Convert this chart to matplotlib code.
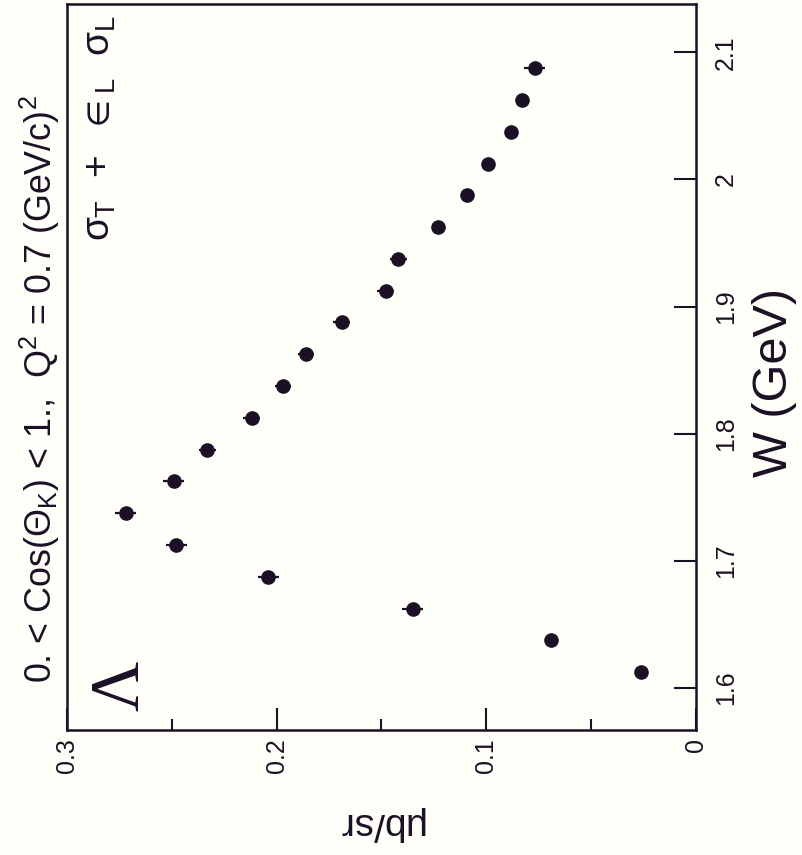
import matplotlib
matplotlib.use("Agg")
import matplotlib.pyplot as plt
from matplotlib.ticker import MultipleLocator

plt.rcParams['font.family'] = ['Liberation Sans', 'DejaVu Sans']
plt.rcParams['mathtext.fontset'] = 'custom'
plt.rcParams['mathtext.rm'] = 'Liberation Sans'
plt.rcParams['mathtext.it'] = 'Liberation Sans'
plt.rcParams['mathtext.bf'] = 'Liberation Sans:bold'
plt.rcParams['mathtext.fallback'] = 'stixsans'

# Data: W (GeV) and cross section (mub/sr)
W = [1.6125, 1.6375, 1.6625, 1.6875, 1.7125, 1.7375, 1.7625, 1.7875, 1.8125, 1.8375,
     1.8625, 1.8875, 1.9125, 1.9375, 1.9625, 1.9875, 2.0125, 2.0375, 2.0625, 2.0875]
sigma = [0.026, 0.069, 0.135, 0.204, 0.248, 0.272, 0.249, 0.233, 0.212, 0.197,
         0.186, 0.169, 0.148, 0.142, 0.123, 0.109, 0.099, 0.088, 0.083, 0.077]
sigma_err = [0.002, 0.003, 0.005, 0.005, 0.005, 0.005, 0.005, 0.004, 0.004, 0.004,
             0.004, 0.004, 0.004, 0.004, 0.003, 0.003, 0.003, 0.003, 0.003, 0.005]

value_ticks = [0.3, 0.2, 0.1, 0.0]
value_ticklabels = ['0.3', '0.2', '0.1', '0']
W_ticks = [1.6, 1.7, 1.8, 1.9, 2.0, 2.1]
W_ticklabels = ['1.6', '1.7', '1.8', '1.9', '2', '2.1']

ink = '#1c1024'
fig = plt.figure(figsize=(8.03, 8.55), dpi=100, facecolor='#fffffa')
ax = fig.add_axes([67/803, 1-730/855, (696-67)/803, (730-4)/855])
ax.set_facecolor('#fffffa')

ax.errorbar(sigma, W, xerr=sigma_err, fmt='o', color=ink, ms=9.5, elinewidth=1.6,
            capsize=0, zorder=3)

ax.set_xlim(0.3, 0.0)
ax.set_ylim(1.567, 2.138)

ax.set_xticks(value_ticks)
ax.set_xticklabels(value_ticklabels, rotation=90, fontsize=18)
ax.xaxis.set_minor_locator(MultipleLocator(0.05))
ax.yaxis.tick_right()
ax.set_yticks(W_ticks)
ax.set_yticklabels(W_ticklabels, rotation=90, fontsize=18, va='center')

ax.tick_params(axis='x', which='major', direction='in', length=16, width=1.5,
               colors=ink, pad=6)
ax.tick_params(axis='x', which='minor', direction='in', length=8, width=1.5, colors=ink)
ax.tick_params(axis='y', which='major', direction='in', length=16, width=1.5,
               colors=ink, pad=13, left=False, right=True)
for s in ax.spines.values():
    s.set_color(ink)
    s.set_linewidth(1.8)

# Axis titles (rotated figure)
fig.text(775/803, 1-382/855, 'W (GeV)', rotation=90, fontsize=35,
         ha='center', va='center', color=ink)
fig.text(380/803, 1-823/855, 'μb/sr', rotation=180, fontsize=28,
         ha='center', va='center', color=ink)

# Annotations
fig.text(40/803, 1-389/855, r'0. < Cos($\Theta_K$) < 1.,  Q$^2$ = 0.7 (GeV/c)$^2$',
         rotation=90, fontsize=25.8, ha='center', va='center', color=ink)
fig.text(100/803, 1-128/855, r'$\sigma_T$  +  $\in_L$  $\sigma_L$',
         rotation=90, fontsize=28, ha='center', va='center', color=ink)
fig.text(122/803, 1-686/855, 'Λ', rotation=90, fontsize=50,
         ha='center', va='center', color=ink, family=['Liberation Serif', 'DejaVu Serif'])

fig.savefig('out.png', dpi=100, facecolor=fig.get_facecolor())
